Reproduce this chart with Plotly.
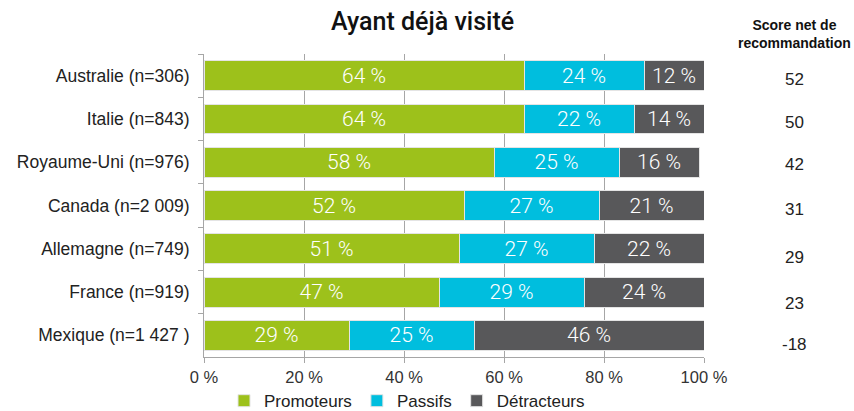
import plotly.graph_objects as go

countries = ["Australie (n=306)", "Italie (n=843)", "Royaume-Uni (n=976)", "Canada (n=2 009)",
             "Allemagne (n=749)", "France (n=919)", "Mexique (n=1 427 )"]
promoteurs = [64, 64, 58, 52, 51, 47, 29]
passifs = [24, 22, 25, 27, 27, 29, 25]
detracteurs = [12, 14, 16, 21, 22, 24, 46]
scores = [52, 50, 42, 31, 29, 23, -18]
series_names = ["Promoteurs", "Passifs", "Détracteurs"]
x_ticks = [0, 20, 40, 60, 80, 100]

colors = ["#9DC11B", "#00BEDE", "#58585A"]
score_nudge = [-4, -4, -2, -4, -9, -11, -9]  # pixel nudges of score labels
FONT = "Liberation Sans"

fig = go.Figure()
for name, vals, col in zip(series_names, [promoteurs, passifs, detracteurs], colors):
    fig.add_trace(go.Bar(
        y=countries, x=vals, name=name, orientation="h",
        marker=dict(color=col, line=dict(color="#E4E4E4", width=1)),
        width=0.69,
        texttemplate="%{x} %", textposition="inside", insidetextanchor="middle",
        constraintext="none",
        textfont=dict(color="white", size=21, family="Roboto", weight=300),
        hoverinfo="skip",
    ))

for c, s, dy in zip(countries, scores, score_nudge):
    fig.add_annotation(x=1.18, xref="paper", xanchor="center", y=c, yref="y", yshift=dy,
                       text=str(s), showarrow=False,
                       font=dict(size=17, color="#222", family=FONT))

fig.add_annotation(x=1.18, xref="paper", xanchor="center", y=1.066, yref="paper",
                   yanchor="middle",
                   text="<b>Score net de<br>recommandation</b>", showarrow=False,
                   font=dict(size=14, color="#111", family=FONT))
fig.add_annotation(x=0.436, xref="paper", xanchor="center", y=1.106, yref="paper",
                   yanchor="middle",
                   text="Ayant déjà visité", showarrow=False,
                   font=dict(size=25, color="#111", family="Roboto", weight=500))

fig.update_layout(
    barmode="stack",
    width=854, height=411,
    margin=dict(l=204, r=150, t=54, b=54),
    plot_bgcolor="white", paper_bgcolor="white",
    showlegend=True,
    legend=dict(orientation="h", x=0.04, xanchor="left",
                yref="container", y=0.024, yanchor="middle",
                font=dict(size=17, color="#222", family=FONT),
                itemwidth=30, tracegroupgap=0, traceorder="normal"),
    xaxis=dict(range=[0, 100], tickvals=x_ticks, ticktext=[f"{v} %" for v in x_ticks],
               showgrid=True, gridcolor="#A6A6A6", gridwidth=1,
               showline=True, linecolor="#A6A6A6", linewidth=1,
               ticks="outside", ticklen=5, tickcolor="#A6A6A6",
               tickfont=dict(size=16.5, color="#333", family=FONT),
               zeroline=False, fixedrange=True, automargin=False),
    yaxis=dict(autorange="reversed", tickson="boundaries",
               showline=True, linecolor="#A6A6A6", linewidth=1,
               ticks="outside", ticklen=5, tickcolor="#A6A6A6",
               ticklabelstandoff=10,
               tickfont=dict(size=17.5, color="#222", family=FONT),
               showgrid=False, fixedrange=True, automargin=False),
)

fig.write_html("out.html")
